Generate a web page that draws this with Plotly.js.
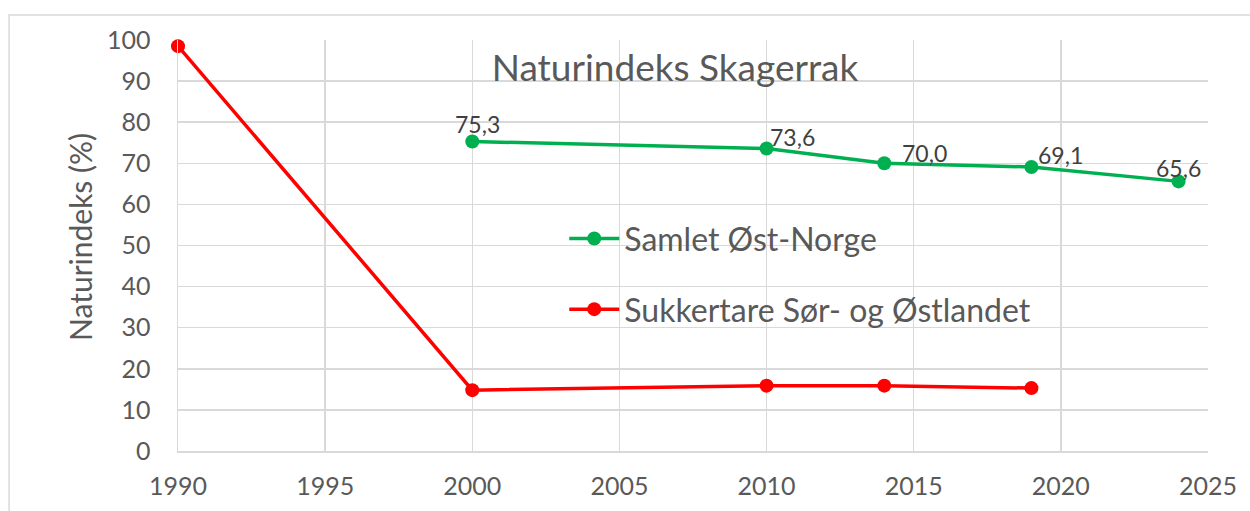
<!DOCTYPE html>
<html>
<head>
<meta charset="utf-8">
<script src="https://cdn.plot.ly/plotly-3.0.1.min.js"></script>
<style>html,body{margin:0;padding:0;background:#fff;}#chart{width:1250px;height:511px;}</style>
</head>
<body>
<div id="chart"></div>
<script>
const greenName = "Samlet Øst-Norge";
const greenYears = [2000, 2010, 2014, 2019, 2024];
const greenValues = [75.3, 73.6, 70.0, 69.1, 65.6];
const greenLabels = ["75,3", "73,6", "70,0", "69,1", "65,6"];

const redName = "Sukkertare Sør- og Østlandet";
const redYears = [1990, 2000, 2010, 2014, 2019];
const redValues = [98.5, 14.8, 15.9, 15.9, 15.3];

const xTicks = [1990, 1995, 2000, 2005, 2010, 2015, 2020, 2025];
const yTicks = [0, 10, 20, 30, 40, 50, 60, 70, 80, 90, 100];

const yTitle = "Naturindeks (%)";
const chartTitle = "Naturindeks Skagerrak";

const FONT = "Lato, 'Noto Sans', sans-serif";

// label offsets in pixels (x, y-up)
const labelShiftX = [5, 26, 40, 29, 0];
const labelShiftY = [18, 12, 10, 12, 13];

const traces = [
  {
    x: greenYears, y: greenValues, name: greenName, type: "scatter",
    mode: "lines+markers",
    line: {color: "#00B050", width: 3.5},
    marker: {color: "#00B050", size: 14},
    legendgroup: "g1", cliponaxis: false
  },
  {
    x: redYears, y: redValues, name: redName, type: "scatter",
    mode: "lines+markers",
    line: {color: "#FF0000", width: 3.5},
    marker: {color: "#FF0000", size: 14},
    legendgroup: "g2", cliponaxis: false
  }
];

const annotations = greenYears.map((yr, i) => ({
  x: yr, y: greenValues[i], xref: "x", yref: "y", text: greenLabels[i],
  showarrow: false, xanchor: "center", yanchor: "middle",
  xshift: labelShiftX[i], yshift: labelShiftY[i],
  font: {family: FONT, size: 23, color: "#404040"}
}));
annotations.push({
  x: -0.095, y: 0.521, xref: "paper", yref: "paper", text: yTitle,
  showarrow: false, textangle: -90, xanchor: "center", yanchor: "middle",
  font: {family: FONT, size: 30, color: "#595959"}
});

const layout = {
  width: 1250, height: 511,
  margin: {l: 178, r: 42, t: 40, b: 60},
  paper_bgcolor: "#ffffff", plot_bgcolor: "#ffffff",
  font: {family: FONT, color: "#595959"},
  title: {text: chartTitle, x: 0.54, xanchor: "center", y: 0.867, yanchor: "middle",
          font: {family: FONT, size: 37, color: "#595959"}},
  xaxis: {
    range: [1990, 2025], tickvals: xTicks, ticktext: xTicks.map(String),
    showgrid: true, gridcolor: "#D9D9D9", gridwidth: 1.5,
    showline: true, linecolor: "#D9D9D9", linewidth: 1.5, mirror: false,
    zeroline: false, ticks: "", ticklabelstandoff: 12,
    tickfont: {family: FONT, size: 25, color: "#595959"}
  },
  yaxis: {
    range: [0, 100], tickvals: yTicks,
    showgrid: true, gridcolor: "#D9D9D9", gridwidth: 1.5,
    showline: true, linecolor: "#D9D9D9", linewidth: 1.5,
    zeroline: false, ticks: "", ticklabelstandoff: 21,
    tickfont: {family: FONT, size: 25, color: "#595959"}
  },
  showlegend: true,
  legend: {
    x: 0.375, y: 0.43, xanchor: "left", yanchor: "middle",
    bgcolor: "rgba(0,0,0,0)", traceorder: "grouped", tracegroupgap: 26,
    itemwidth: 50,
    font: {family: FONT, size: 32, color: "#595959"}
  },
  annotations: annotations,
  shapes: [
    {type: "rect", xref: "paper", yref: "paper", x0: -0.164, x1: 1.2, y0: -0.3, y1: 1.061,
     line: {color: "#D9D9D9", width: 1.5}, fillcolor: "rgba(0,0,0,0)", layer: "below"}
  ]
};

Plotly.newPlot("chart", traces, layout, {displayModeBar: false, staticPlot: true});
</script>
</body>
</html>
